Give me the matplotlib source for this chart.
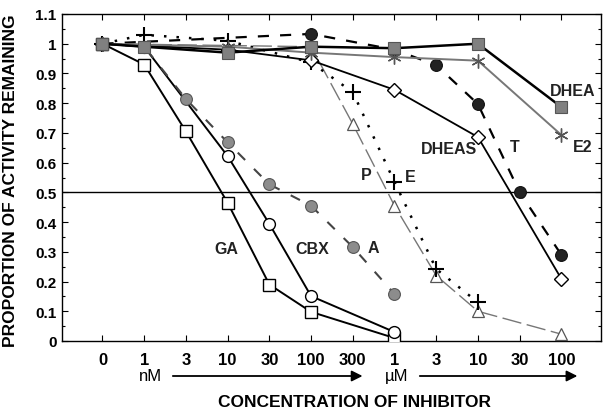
import matplotlib
matplotlib.use("Agg")
import matplotlib.pyplot as plt
import numpy as np

plt.rcParams['font.family'] = ['Liberation Sans', 'DejaVu Sans']

# ---------------- data ----------------
x_labels = ['0', '1', '3', '10', '30', '100', '300', '1', '3', '10', '30', '100']

GA    = [1.00, 0.93, 0.705, 0.465, 0.19, 0.098, None, 0.01, None, None, None, None]
CBX   = [1.00, 0.99, None, 0.622, 0.394, 0.151, None, 0.03, None, None, None, None]
A     = [1.00, 0.99, 0.814, 0.668, 0.527, 0.455, 0.316, 0.158, None, None, None, None]
T     = [1.00, None, None, None, None, 1.033, None, 0.98, 0.928, 0.797, 0.50, 0.29]
E     = [1.00, 1.03, None, 1.01, None, 0.937, 0.837, 0.535, 0.242, 0.13, None, None]
P     = [1.00, None, None, None, None, 0.99, 0.73, 0.455, 0.22, 0.10, None, 0.023]
DHEAS = [1.00, None, None, 0.98, None, 0.944, None, 0.845, None, 0.686, None, 0.209]
E2    = [1.00, None, None, 0.99, None, 0.97, None, 0.955, None, 0.943, None, 0.693]
DHEA  = [1.00, 0.99, None, 0.97, None, 0.99, None, 0.985, None, 1.00, None, 0.787]

series_labels = ['GA', 'CBX', 'A', 'P', 'E', 'DHEAS', 'T', 'DHEA', 'E2']
label_pos = {'GA': (2.98, 0.31), 'CBX': (5.02, 0.31), 'A': (6.49, 0.316),
             'P': (6.32, 0.56), 'E': (7.37, 0.553), 'DHEAS': (8.31, 0.646),
             'T': (9.89, 0.653), 'DHEA': (11.28, 0.844), 'E2': (11.5, 0.653)}


def pts(vals):
    xs = [i for i, v in enumerate(vals) if v is not None]
    ys = [v for v in vals if v is not None]
    return xs, ys


fig = plt.figure(figsize=(6.03, 4.14), dpi=100)
ax = fig.add_axes([62 / 603, 1 - 342 / 414, (601 - 62) / 603, (342 - 15) / 414])

# GA
x, y = pts(GA)
ax.plot(x, y, '-', color='black', lw=1.4, marker='s', ms=8.5, mfc='white', mec='black', mew=1.0, zorder=3)
# CBX
x, y = pts(CBX)
ax.plot(x, y, '-', color='black', lw=1.4, marker='o', ms=8.5, mfc='white', mec='black', mew=1.0, zorder=3)
# A
x, y = pts(A)
ax.plot(x, y, color='#444444', lw=1.5, ls=(0, (5, 6)), marker='o', ms=8.5, mfc='#8c8c8c', mec='#555555', mew=0.8, zorder=3)
# P
x, y = pts(P)
ax.plot(x, y, color='#777777', lw=1.0, ls=(0, (14, 4)), marker='^', ms=8.5, mfc='white', mec='#555555', mew=0.9, zorder=3)
# E
x, y = pts(E)
ax.plot(x, y, color='black', lw=1.8, ls=(0, (1, 4)), marker='+', ms=11, mec='black', mew=1.5, zorder=3)
# T
x, y = pts(T)
ax.plot(x, y, color='black', lw=1.6, ls=(0, (5, 5)), marker='o', ms=8.5, mfc='#222222', mec='#111111', mew=0.8, zorder=3)
# DHEAS
x, y = pts(DHEAS)
ax.plot(x, y, '-', color='black', lw=1.3, marker='D', ms=7, mfc='white', mec='black', mew=1.0, zorder=3)
# E2
x, y = pts(E2)
ax.plot(x, y, '-', color='#777777', lw=1.4, marker=(6, 2, 0), ms=10, mec='#555555', mew=1.0, zorder=4)
# DHEA
x, y = pts(DHEA)
ax.plot(x, y, '-', color='black', lw=1.8, marker='s', ms=8.5, mfc='#808080', mec='#555555', mew=0.8, zorder=5)

ax.axhline(0.5, color='black', lw=1.0, zorder=2)

for name in series_labels:
    lx, ly = label_pos[name]
    ax.text(lx, ly, name, ha='center', va='center', fontsize=11.5, fontweight='bold', color='#222222')

ax.set_xlim(-0.97, 11.95)
ax.set_ylim(0, 1.1)
ax.set_xticks(range(len(x_labels)))
ax.set_xticklabels(x_labels)
yt = np.round(np.arange(0, 1.11, 0.1), 1)
ax.set_yticks(yt)
ax.set_yticklabels(['0' if v == 0 else ('1' if v == 1 else ('%g' % v)) for v in yt])
ax.set_yticks(np.arange(0.05, 1.1, 0.1), minor=True)
ax.tick_params(axis='both', which='both', direction='in', top=True, right=True)
ax.tick_params(axis='both', which='major', length=4, width=0.8)
ax.tick_params(axis='both', which='minor', length=2.5, width=0.8)
ax.tick_params(axis='x', which='major', labelsize=12, pad=8)
ax.tick_params(axis='y', which='major', labelsize=11, pad=4)
for lab in ax.get_xticklabels() + ax.get_yticklabels():
    lab.set_fontweight('bold')
for sp in ax.spines.values():
    sp.set_linewidth(1.0)

# unit annotations under the axis
ytxt = (342 - 377) / 327
ax.text(1.14, ytxt, 'nM', transform=ax.get_xaxis_transform(), ha='center', va='center', fontsize=12, clip_on=False)
ax.text(7.06, ytxt, 'µM', transform=ax.get_xaxis_transform(), ha='center', va='center', fontsize=12, clip_on=False)
ax.annotate('', xy=(6.3, ytxt), xytext=(1.62, ytxt), xycoords=('data', 'axes fraction'),
            textcoords=('data', 'axes fraction'),
            arrowprops=dict(arrowstyle='-|>', lw=1.3, color='black', mutation_scale=16), annotation_clip=False)
ax.annotate('', xy=(11.45, ytxt), xytext=(7.54, ytxt), xycoords=('data', 'axes fraction'),
            textcoords=('data', 'axes fraction'),
            arrowprops=dict(arrowstyle='-|>', lw=1.3, color='black', mutation_scale=16), annotation_clip=False)

fig.text(354 / 603, 1 - 403 / 414, 'CONCENTRATION OF INHIBITOR', ha='center', va='center', fontsize=12.5,
         fontweight='bold')
fig.text(11 / 603, 1 - 181 / 414, 'PROPORTION OF ACTIVITY REMAINING', ha='center', va='center',
         rotation=90, fontsize=12.5, fontweight='bold')

fig.savefig('out.png', dpi=100)
